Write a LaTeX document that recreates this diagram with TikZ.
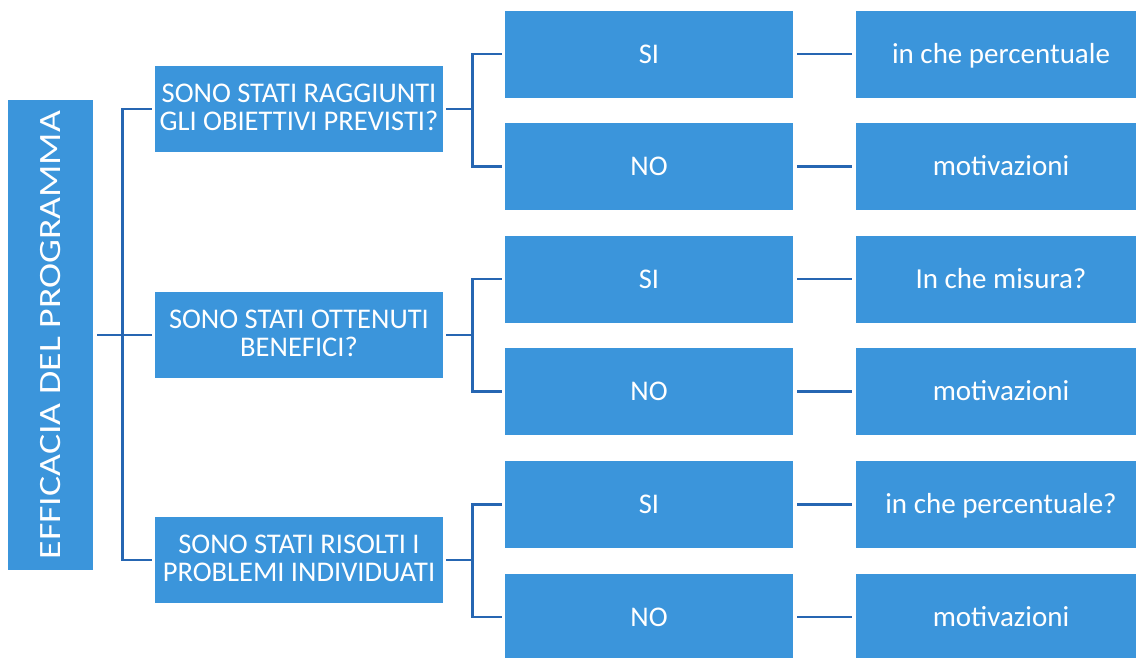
\documentclass[tikz,border=0pt]{standalone}
\usepackage{fontspec}
\setmainfont{Carlito}
\definecolor{boxblue}{RGB}{59,149,219}
\definecolor{lineblue}{RGB}{38,102,178}
\tikzset{
  blbox/.style={fill=boxblue, draw=none, inner sep=0pt, text=white,
    font=\fontsize{28.5}{28}\selectfont},
  qbox/.style={blbox, minimum width=288pt, minimum height=86pt, align=center,
    text height=46pt, text depth=4pt},
  abox/.style={blbox, minimum width=288pt, minimum height=87pt, text height=18pt, text depth=0pt},
  rbox/.style={blbox, minimum width=290pt, minimum height=87pt, text height=18pt, text depth=0pt,
    font=\fontsize{29}{29}\selectfont},
  conn/.style={draw=lineblue, line width=2.7pt}
}
\begin{document}
\begin{tikzpicture}[x=1pt,y=-1pt]
\clip (0,0) rectangle (1136,657);
\fill[white] (0,0) rectangle (1136,657);
% left box
\node[blbox, minimum width=85pt, minimum height=470pt] (L) at (50.5,335)
  {\rotatebox{90}{\fontsize{31}{31}\selectfont\scalebox{1.22}[1]{EFFICACIA DEL PROGRAMMA}}};
% question boxes
\node[qbox] (Q1) at (299,109) {SONO STATI RAGGIUNTI\\GLI OBIETTIVI PREVISTI?};
\node[qbox] (Q2) at (299,335) {SONO STATI OTTENUTI\\BENEFICI?};
\node[qbox] (Q3) at (299,560) {SONO STATI RISOLTI I\\PROBLEMI INDIVIDUATI};
% answer boxes
\node[abox] (S1) at (649,54) {SI};
\node[abox] (N1) at (649,166.5) {NO};
\node[abox] (S2) at (649,279) {SI};
\node[abox] (N2) at (649,391.5) {NO};
\node[abox] (S3) at (649,504.5) {SI};
\node[abox] (N3) at (649,617) {NO};
% right boxes
\node[rbox] (R1) at (1001,54) {in che percentuale};
\node[rbox] (R2) at (1001,166.5) {motivazioni};
\node[rbox] (R3) at (1001,279) {In che misura?};
\node[rbox] (R4) at (1001,391.5) {motivazioni};
\node[rbox] (R5) at (1001,504.5) {in che percentuale?};
\node[rbox] (R6) at (1001,617) {motivazioni};
% connectors: left to questions
\draw[conn] ([xshift=4pt]L.east) -- ([xshift=-3pt]Q2.west);
\draw[conn] ([xshift=-3pt]Q1.west) -- ++(-29,0) |- ([xshift=-3pt]Q3.west);
% questions to answers
\foreach \q/\s/\n in {Q1/S1/N1, Q2/S2/N2, Q3/S3/N3}{
  \draw[conn] ([xshift=3pt]\q.east) -- ++(27,0);
  \draw[conn] ([xshift=-3pt]\s.west) -- ++(-29,0) |- ([xshift=-3pt]\n.west);
}
% answers to right boxes
\foreach \a/\r in {S1/R1, N1/R2, S2/R3, N2/R4, S3/R5, N3/R6}{
  \draw[conn] ([xshift=4pt]\a.east) -- ([xshift=-4pt]\r.west);
}
\end{tikzpicture}
\end{document}
